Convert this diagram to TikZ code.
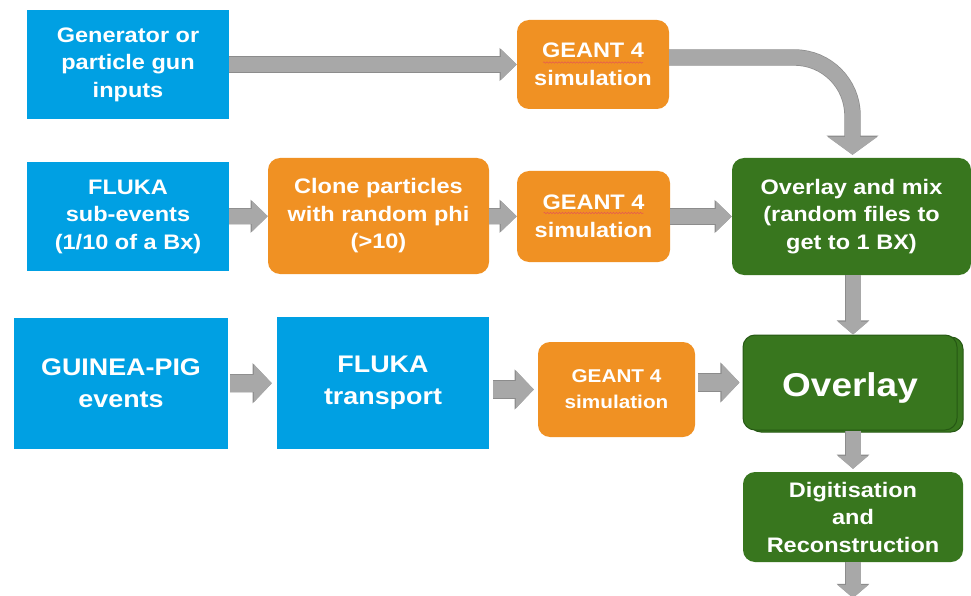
\documentclass[tikz,border=0pt]{standalone}
\usepackage{fontspec}
\setmainfont{Liberation Sans}[FakeStretch=1.12]
\usetikzlibrary{arrows.meta,shadows,decorations.pathmorphing,calc}
\definecolor{cblue}{RGB}{0,160,227}
\definecolor{corange}{RGB}{240,145,35}
\definecolor{cgreen}{RGB}{56,118,30}
\definecolor{cgreend}{RGB}{38,88,20}
\definecolor{cgray}{RGB}{168,168,168}
\definecolor{cgrayd}{RGB}{140,140,140}
\definecolor{squig}{RGB}{230,90,80}
\begin{document}
\begin{tikzpicture}[x=1pt,y=-1pt,
  box/.style={inner sep=0pt, align=center, text=white,
    font=\bfseries\fontsize{21}{27.5}\selectfont},
  bluebox/.style={box, fill=cblue},
  orangebox/.style={box, fill=corange, rounded corners=12pt},
  greenbox/.style={box, fill=cgreen, rounded corners=12pt},
  blk/.style={line width=15pt, draw=cgray,
    -{Triangle[width=30pt,length=16pt]},
    preaction={draw=cgrayd, line width=16.4pt, -{Triangle[width=32pt,length=17.2pt]}}},
  blkL/.style={line width=17pt, draw=cgray,
    -{Triangle[width=37pt,length=18pt]},
    preaction={draw=cgrayd, line width=18.4pt, -{Triangle[width=39pt,length=19.2pt]}}},
  blkV/.style={line width=15pt, draw=cgray,
    -{Triangle[width=30pt,length=13pt]},
    preaction={draw=cgrayd, line width=16.4pt, -{Triangle[width=32pt,length=14.2pt]}}},
  blkC/.style={line width=15pt, draw=cgray, rounded corners=58pt,
    -{Triangle[width=49pt,length=18pt]},
    preaction={draw=cgrayd, line width=16.4pt, -{Triangle[width=51pt,length=19.2pt]}}},
  squiggle/.style={draw=squig, line width=0.5pt, decorate,
    decoration={snake, amplitude=0.7pt, segment length=3pt}}
]
\useasboundingbox (0,0) rectangle (971,596);
\clip (0,0) rectangle (971,596);
\fill[white] (0,0) rectangle (971,596);

% row 1
\node[bluebox, minimum width=202pt, minimum height=109pt] (gen) at (128,64.5)
  {Generator or\\particle gun\\inputs};
\node[orangebox, minimum width=152pt, minimum height=89pt] (g1) at (593,64.5)
  {GEANT 4\\simulation};

% row 2
\node[bluebox, minimum width=202pt, minimum height=109pt] (fluka) at (128,216.5)
  {FLUKA\\sub-events\\(1/10 of a Bx)};
\node[orangebox, minimum width=221pt, minimum height=116pt] (clone) at (378.5,216)
  {Clone particles\\with random phi\\(>10)};
\node[orangebox, minimum width=153pt, minimum height=91pt] (g2) at (593.5,216.5)
  {GEANT 4\\simulation};
\node[greenbox, minimum width=239pt, minimum height=117pt] (mix) at (851.5,216.5)
  {Overlay and mix\\(random files to\\get to 1 BX)};

% row 3
\node[bluebox, minimum width=214pt, minimum height=131pt,
  font=\bfseries\fontsize{24}{32}\selectfont] (guinea) at (121,383.5)
  {GUINEA-PIG\\events};
\node[bluebox, minimum width=212pt, minimum height=132pt,
  font=\bfseries\fontsize{24}{32}\selectfont] (transport) at (383,383)
  {FLUKA\\transport};
\node[orangebox, minimum width=157pt, minimum height=95pt,
  font=\bfseries\fontsize{18.5}{26}\selectfont] (g3) at (616.5,389.5)
  {GEANT 4\\simulation};
\node[greenbox, draw=cgreend, line width=1pt, minimum width=214pt, minimum height=95pt,
  copy shadow={shadow xshift=6pt, shadow yshift=-2pt, fill=cgreen, draw=cgreend, line width=1pt},
  align=none, text height=34pt, text depth=7pt,
  font=\bfseries\fontsize{33}{40}\selectfont] (overlay) at (850,382.5)
  {Overlay};
\node[greenbox, minimum width=220pt, minimum height=90pt] (digi) at (853,517)
  {Digitisation\\and\\Reconstruction};

\coordinate (g1out) at ($(g1.east)+(0,-7)$);
\coordinate (bottom) at (853,598);

% connectors
\draw[blk] (gen) -- (g1);
\draw[blkC] (g1out) -| ($(mix.north)+(1,-3)$);
\draw[blk] (fluka) -- (clone);
\draw[blk] (clone) -- (g2);
\draw[blk] (g2) -- (mix);
\draw[blkL, shorten <=2pt, shorten >=5pt] (guinea) -- (transport);
\draw[blkL, shorten <=4pt, shorten >=4pt] (transport.east |- g3) -- (g3.west);
\draw[blkL, shorten <=3pt, shorten >=3pt] (g3.east |- overlay) -- (overlay.west);
\draw[blkV] (mix.south -| digi) -- (overlay.north -| digi);
\draw[blkV, shorten >=3pt] (overlay.south -| digi) -- (digi.north);
\draw[blkV] (digi.south) -- (bottom);

% spell-check squiggles
\draw[squiggle] ($(g1.center)+(-50,-2)$) -- ($(g1.center)+(50,-2)$);
\draw[squiggle] ($(g2.center)+(-50,-3.5)$) -- ($(g2.center)+(50,-3.5)$);
\end{tikzpicture}
\end{document}
